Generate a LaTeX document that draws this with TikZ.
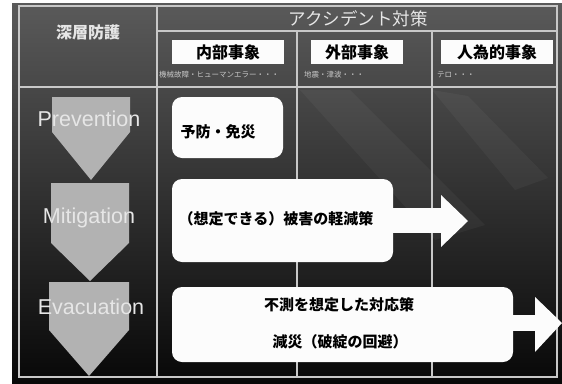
\documentclass[tikz,border=0pt]{standalone}
\usepackage{fontspec}
\setmainfont{Liberation Sans}
\newfontfamily\jp{Noto Sans CJK JP}
\definecolor{linegray}{HTML}{C8C8C8}
\definecolor{chev}{HTML}{B2B2B2}
\definecolor{bgtop}{HTML}{5A5A5A}
\definecolor{bgmid}{HTML}{353535}
\definecolor{bgbot}{HTML}{080808}
\definecolor{boxwhite}{HTML}{FCFCFC}
\definecolor{lighttext}{HTML}{E6E6E6}
\begin{document}
\begin{tikzpicture}[x=1pt,y=-1pt,
  frame/.style={draw=linegray,line width=1.2pt},
  wbox/.style={fill=boxwhite},
  chevron/.style={fill=chev},
  hdrlabel/.style={font=\jp\bfseries\fontsize{16}{16}\selectfont,text=black,inner sep=0pt},
  smalltxt/.style={font=\jp\fontsize{7.5}{7.5}\selectfont,text=linegray,anchor=west,inner sep=0pt},
  boxtxt/.style={font=\jp\bfseries\fontsize{15}{15}\selectfont,text=black,inner sep=0pt},
  latinlbl/.style={font=\fontsize{21.5}{21.5}\selectfont,text=lighttext,anchor=base,inner sep=0pt},
  toptxt/.style={text=lighttext,inner sep=0pt}]
\useasboundingbox (0,0) rectangle (562,383);
\fill[white] (0,0) rectangle (562,383);
\shade[top color=bgtop,middle color=bgmid,bottom color=bgbot] (12,3) rectangle (562,383);
% decorative diagonal bands
\begin{scope}
\clip (157,87) rectangle (557,377);
\fill[white,opacity=0.04] (300,90) -- (350,90) -- (485,225) -- (435,240) -- cycle;
\fill[white,opacity=0.04] (432,90) -- (468,96) -- (548,178) -- (515,190) -- cycle;
\end{scope}
% frame lines
\draw[frame] (19,6) rectangle (557,377);
\draw[frame] (157,6) -- (157,377);
\draw[frame] (157,31) -- (557,31);
\draw[frame] (19,87) -- (557,87);
\draw[frame] (297,31) -- (297,377);
\draw[frame] (432,31) -- (432,377);
% header texts
\node[toptxt,font=\jp\bfseries\fontsize{16}{16}\selectfont] (ddef) at (88,32) {深層防護};
\node[toptxt,font=\jp\fontsize{17.5}{17.5}\selectfont] (acc) at (358,19) {アクシデント対策};
\fill[wbox] (172,40) rectangle (284,64);
\fill[wbox] (311,40) rectangle (403,64);
\fill[wbox] (441,40) rectangle (553,64);
\node[hdrlabel] (internal) at (228,52.5) {内部事象};
\node[hdrlabel] (external) at (357,52.5) {外部事象};
\node[hdrlabel] (human) at (497,52.5) {人為的事象};
\node[smalltxt] (s1) at (159,74.5) {機械故障・ヒューマンエラー・・・};
\node[smalltxt] (s2) at (304,74.5) {地震・津波・・・};
\node[smalltxt] (s3) at (437,74.5) {テロ・・・};
% chevrons
\fill[chevron] (52,97) -- (130,97) -- (130,132) -- (91,180) -- (52,132) -- cycle;
\fill[chevron] (51,183) -- (129,183) -- (129,243) -- (90,281) -- (51,243) -- cycle;
\fill[chevron] (49,282) -- (129,282) -- (129,330) -- (89,376) -- (49,330) -- cycle;
\node[latinlbl] (prev) at (89,126) {Prevention};
\node[latinlbl] (miti) at (89,223) {Mitigation};
\node[latinlbl] (evac) at (91,314.5) {Evacuation};
% white boxes and arrows
\fill[wbox,rounded corners=10pt] (172,97) rectangle (283,158);
\fill[wbox,rounded corners=10pt] (172,179) rectangle (393,262);
\fill[wbox] (385,208) rectangle (442,233);
\fill[wbox] (441,195) -- (468,221) -- (441,247) -- cycle;
\fill[wbox,rounded corners=10pt] (172,287) rectangle (513,362);
\fill[wbox] (505,315) rectangle (536,331);
\fill[wbox] (535,297) -- (562,323) -- (535,352) -- cycle;
\node[boxtxt] (t1) at (218,132) {予防・免災};
\node[boxtxt] (t2) at (276,219) {（想定できる）被害の軽減策};
\node[boxtxt] (t3) at (339,305) {不測を想定した対応策};
\node[boxtxt] (t4) at (340,342) {減災（破綻の回避）};
\end{tikzpicture}
\end{document}
